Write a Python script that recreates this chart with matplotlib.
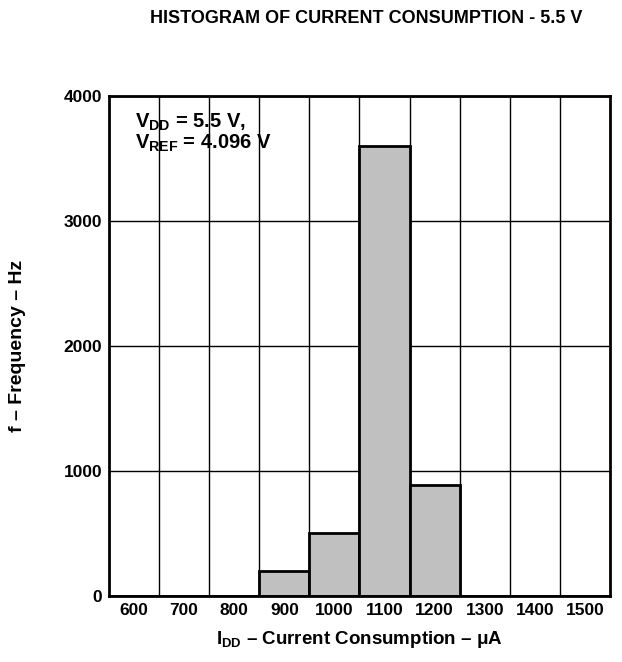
import matplotlib
matplotlib.use("Agg")
import matplotlib.pyplot as plt
import numpy as np

plt.rcParams["font.family"] = ["Liberation Sans", "DejaVu Sans"]
plt.rcParams["font.weight"] = "bold"
plt.rcParams["mathtext.fontset"] = "custom"
plt.rcParams["mathtext.rm"] = "Liberation Sans:bold"
plt.rcParams["mathtext.bf"] = "Liberation Sans:bold"
plt.rcParams["mathtext.it"] = "Liberation Sans:bold"
plt.rcParams["mathtext.default"] = "bf"

categories = ["600", "700", "800", "900", "1000", "1100", "1200", "1300", "1400", "1500"]
frequency = [0, 0, 0, 200, 500, 3600, 890, 0, 0, 0]

fig = plt.figure(figsize=(6.22, 6.62), dpi=100)
ax = fig.add_axes([0.1752, 0.0997, 0.8055, 0.7553])

x = np.arange(len(categories))
ax.bar(x, frequency, width=1.0, color="#c0c0c0", edgecolor="black", linewidth=2, zorder=3)

ax.set_xlim(-0.5, len(categories) - 0.5)
ax.set_ylim(0, 4000)
ax.set_yticks([0, 1000, 2000, 3000, 4000])
ax.set_xticks(x)
ax.set_xticklabels(categories)
ax.set_xticks(np.arange(0.5, len(categories) - 1, 1.0), minor=True)
ax.grid(True, which="minor", axis="x", color="black", linewidth=1, zorder=1)
ax.grid(True, which="major", axis="y", color="black", linewidth=1, zorder=1)
ax.tick_params(axis="both", which="both", length=0, labelsize=12.5, pad=5)
for lab in ax.get_xticklabels() + ax.get_yticklabels():
    lab.set_fontweight("bold")
for s in ax.spines.values():
    s.set_linewidth(2)
    s.set_zorder(4)

ax.text(0.052, 0.968, "V$_{DD}$ = 5.5 V,\nV$_{REF}$ = 4.096 V",
        transform=ax.transAxes, ha="left", va="top", fontsize=14.5, fontweight="bold",
        linespacing=0.95, zorder=5)

ax.set_xlabel("I$_{DD}$ – Current Consumption – μA", fontsize=13.5, fontweight="bold")
ax.xaxis.set_label_coords(0.5, -0.066)
ax.set_ylabel("f – Frequency – Hz", fontsize=14, fontweight="bold")
ax.yaxis.set_label_coords(-0.165, 0.5)
fig.text(0.588, 0.972, "HISTOGRAM OF CURRENT CONSUMPTION - 5.5 V", ha="center", va="center",
         fontsize=13, fontweight="bold")

fig.savefig("out.png", dpi=100)
